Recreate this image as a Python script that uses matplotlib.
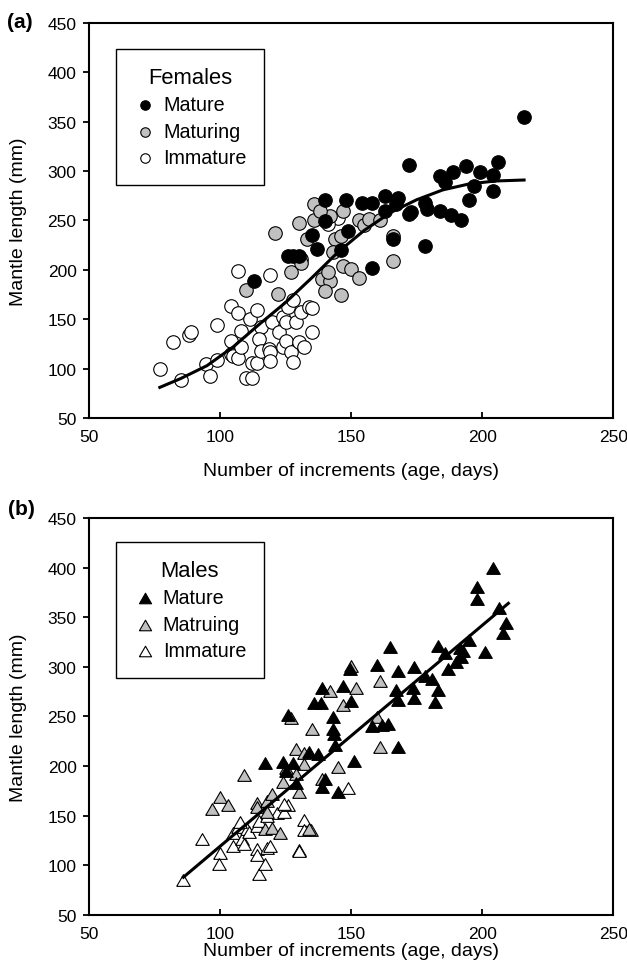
import matplotlib
matplotlib.use("Agg")
import matplotlib.pyplot as plt

plt.rcParams['font.family'] = ['Liberation Sans', 'DejaVu Sans']

# ---- (a) females: age (increments) vs mantle length (mm)
fem_mature_x = [113, 126, 128, 130, 216, 172, 206, 194, 199, 189, 184, 186, 204, 197, 204,
                195, 178, 179, 184, 188, 192, 178, 173, 172, 168, 163, 167, 163, 158, 154,
                148, 140, 140, 135, 137, 149, 146, 166, 158]
fem_mature_y = [189, 214, 214, 214, 355, 306, 309, 305, 299, 299, 295, 289, 296, 285, 280,
                271, 268, 262, 260, 256, 250, 224, 259, 257, 273, 275, 267, 260, 268, 268,
                271, 271, 249, 235, 221, 239, 220, 231, 202]

fem_maturing_x = [110, 121, 122, 127, 130, 131, 131, 136, 147, 136, 142, 153, 155, 157, 161,
                  133, 144, 146, 143, 166, 166, 147, 150, 153, 139, 142, 140, 146, 141, 138]
fem_maturing_y = [180, 237, 176, 198, 247, 211, 207, 267, 260, 251, 255, 250, 245, 252, 250,
                  231, 231, 234, 218, 234, 209, 204, 201, 192, 191, 189, 179, 175, 198, 260]

fem_immature_x = [77, 85, 82, 88, 89, 94.5, 96, 99, 99, 104, 104, 105, 107, 104, 107, 107,
                  111.5, 108, 108, 110, 112, 112, 114, 114, 115.5, 115, 115.5, 118.5, 119, 119,
                  119, 120, 122.5, 124, 125, 124, 126, 128, 125, 129, 127, 128, 130, 131, 132,
                  134, 135, 135, 145, 141, 139]
fem_immature_y = [100, 88, 127, 134, 137, 105, 93, 109, 144, 128, 115, 113, 111, 163, 156, 199,
                  150, 138, 122, 91, 91, 106, 106, 159, 142, 130, 118, 120, 117, 108,
                  195, 147, 137, 122, 128, 152, 162, 169, 147, 147, 117, 107, 127, 157, 122,
                  162, 161, 137, 253, 246, 254]

# fitted growth curve
fem_curve_x = [77, 85, 95, 105, 115, 125, 135, 145, 155, 165, 175, 185, 195, 205, 216]
fem_curve_y = [81, 90, 103, 122, 145, 167, 192, 218, 240, 258, 271, 281, 287, 290, 291]

# ---- (b) males
mal_mature_x = [117, 124, 128, 125, 126, 129, 140, 139, 145, 204, 198, 198, 206.5, 209, 208,
                195, 201, 191.6, 192.6, 192, 190, 187, 183, 186, 181, 183, 182, 178, 174,
                173.5, 174, 168, 167, 168, 165, 160, 164, 161.6, 158, 168, 151, 149.4, 150,
                147, 143, 143, 143.5, 139, 136, 138.4, 144, 134, 137.5]
mal_mature_y = [203, 204, 203, 195, 251, 183, 187, 179, 174, 400, 380, 368, 359, 344, 334,
                327, 315, 319, 316, 310, 304.5, 298, 321, 314, 288, 277, 265, 291, 299.5,
                279, 269, 296, 277, 267, 320, 302, 242, 241, 240, 219, 205.5, 298, 266,
                281, 249, 237, 232, 279, 264, 264, 221, 214, 212]

mal_maturing_x = [100, 97, 103, 109, 114, 114, 118, 118, 117, 120, 123, 120, 124, 125, 129,
                  132, 129, 132, 130, 127, 139, 134, 150, 142, 152, 147, 161, 135, 160, 161, 145]
mal_maturing_y = [169, 157, 161, 191, 163, 158.5, 165, 153.5, 137, 138, 133, 172, 184, 198, 217,
                  213, 192, 202, 174, 248, 187, 137, 301, 276, 279, 262, 286, 237, 249, 219, 199]

mal_immature_x = [86, 93, 100, 99.4, 105, 105, 107, 108.5, 109, 110.4, 111, 114, 115, 114, 114,
                  115, 117, 118, 119, 121.6, 124.4, 126, 132, 132, 134.6, 130, 130, 149,
                  117.8, 124.4, 107.5]
mal_immature_y = [85, 127, 112.5, 101, 119, 133, 139, 127, 121.5, 136.6, 134, 140, 145, 116.5, 110,
                  91, 101, 117, 119, 153, 153.5, 161, 146, 136, 136, 115, 114, 178,
                  149.5, 161.8, 144]

mal_line_x = [86, 210]
mal_line_y = [88, 364]

xticks = [50, 100, 150, 200, 250]
yticks = [50, 100, 150, 200, 250, 300, 350, 400, 450]

GRAY = '#c0c0c0'

fig = plt.figure(figsize=(6.27, 9.79), dpi=100)
ax1 = fig.add_axes([0.142, 0.572, 0.836, 0.4035])
ax2 = fig.add_axes([0.142, 0.0644, 0.836, 0.4055])


def style_axes(ax):
    ax.set_xlim(50, 250)
    ax.set_ylim(50, 450)
    ax.set_xticks(xticks)
    ax.set_yticks(yticks)
    for sp in ax.spines.values():
        sp.set_linewidth(1.5)
    ax.tick_params(axis='x', direction='in', length=4, width=1.3, labelsize=12.5, pad=8)
    ax.tick_params(axis='y', direction='out', length=4, width=1.3, labelsize=12.5, pad=5)
    ax.set_ylabel('Mantle length (mm)', fontsize=14)
    ax.yaxis.set_label_coords(-0.118, 0.5)


def make_legend(ax, title, anchor, mscale):
    h, l = ax.get_legend_handles_labels()
    leg = ax.legend(h[::-1], l[::-1], title=title, loc='upper left',
                    bbox_to_anchor=anchor, borderaxespad=0, fontsize=14.2,
                    title_fontsize=15.8, markerscale=mscale, fancybox=False, framealpha=1,
                    edgecolor='black', handletextpad=0.35, labelspacing=0.38,
                    borderpad=0.9, handlelength=1.15)
    leg.get_frame().set_linewidth(1.0)
    return leg


# panel (a)
circ = dict(s=95, marker='o', edgecolors='black', linewidths=0.8, zorder=3)
ax1.scatter(fem_immature_x, fem_immature_y, c='white', label='Immature', **circ)
ax1.scatter(fem_maturing_x, fem_maturing_y, c=GRAY, label='Maturing', **circ)
ax1.scatter(fem_mature_x, fem_mature_y, c='black', label='Mature', **circ)
ax1.plot(fem_curve_x, fem_curve_y, color='black', lw=2.2, zorder=4)
style_axes(ax1)
ax1.set_xlabel('Number of increments (age, days)', fontsize=14)
ax1.xaxis.set_label_coords(0.5, -0.112)
make_legend(ax1, 'Females', (0.0515, 0.934), 0.7)

# panel (b)
tri = [(-1, -0.866), (1, -0.866), (0, 0.866), (-1, -0.866)]
trik = dict(s=95, marker=tri, edgecolors='black', linewidths=0.8, zorder=3)
ax2.scatter(mal_immature_x, mal_immature_y, c='white', label='Immature', **trik)
ax2.scatter(mal_maturing_x, mal_maturing_y, c=GRAY, label='Matruing', **trik)
ax2.scatter(mal_mature_x, mal_mature_y, c='black', label='Mature', **trik)
ax2.plot(mal_line_x, mal_line_y, color='black', lw=2.2, zorder=4)
style_axes(ax2)
ax2.set_xlabel('Number of increments (age, days)', fontsize=14)
ax2.xaxis.set_label_coords(0.5, -0.068)
make_legend(ax2, 'Males', (0.0505, 0.9395), 0.9)

fig.text(0.011, 1 - 23 / 979, '(a)', fontsize=15, fontweight='bold', va='center')
fig.text(0.013, 1 - 510 / 979, '(b)', fontsize=15, fontweight='bold', va='center')

fig.savefig('out.png', dpi=100)
